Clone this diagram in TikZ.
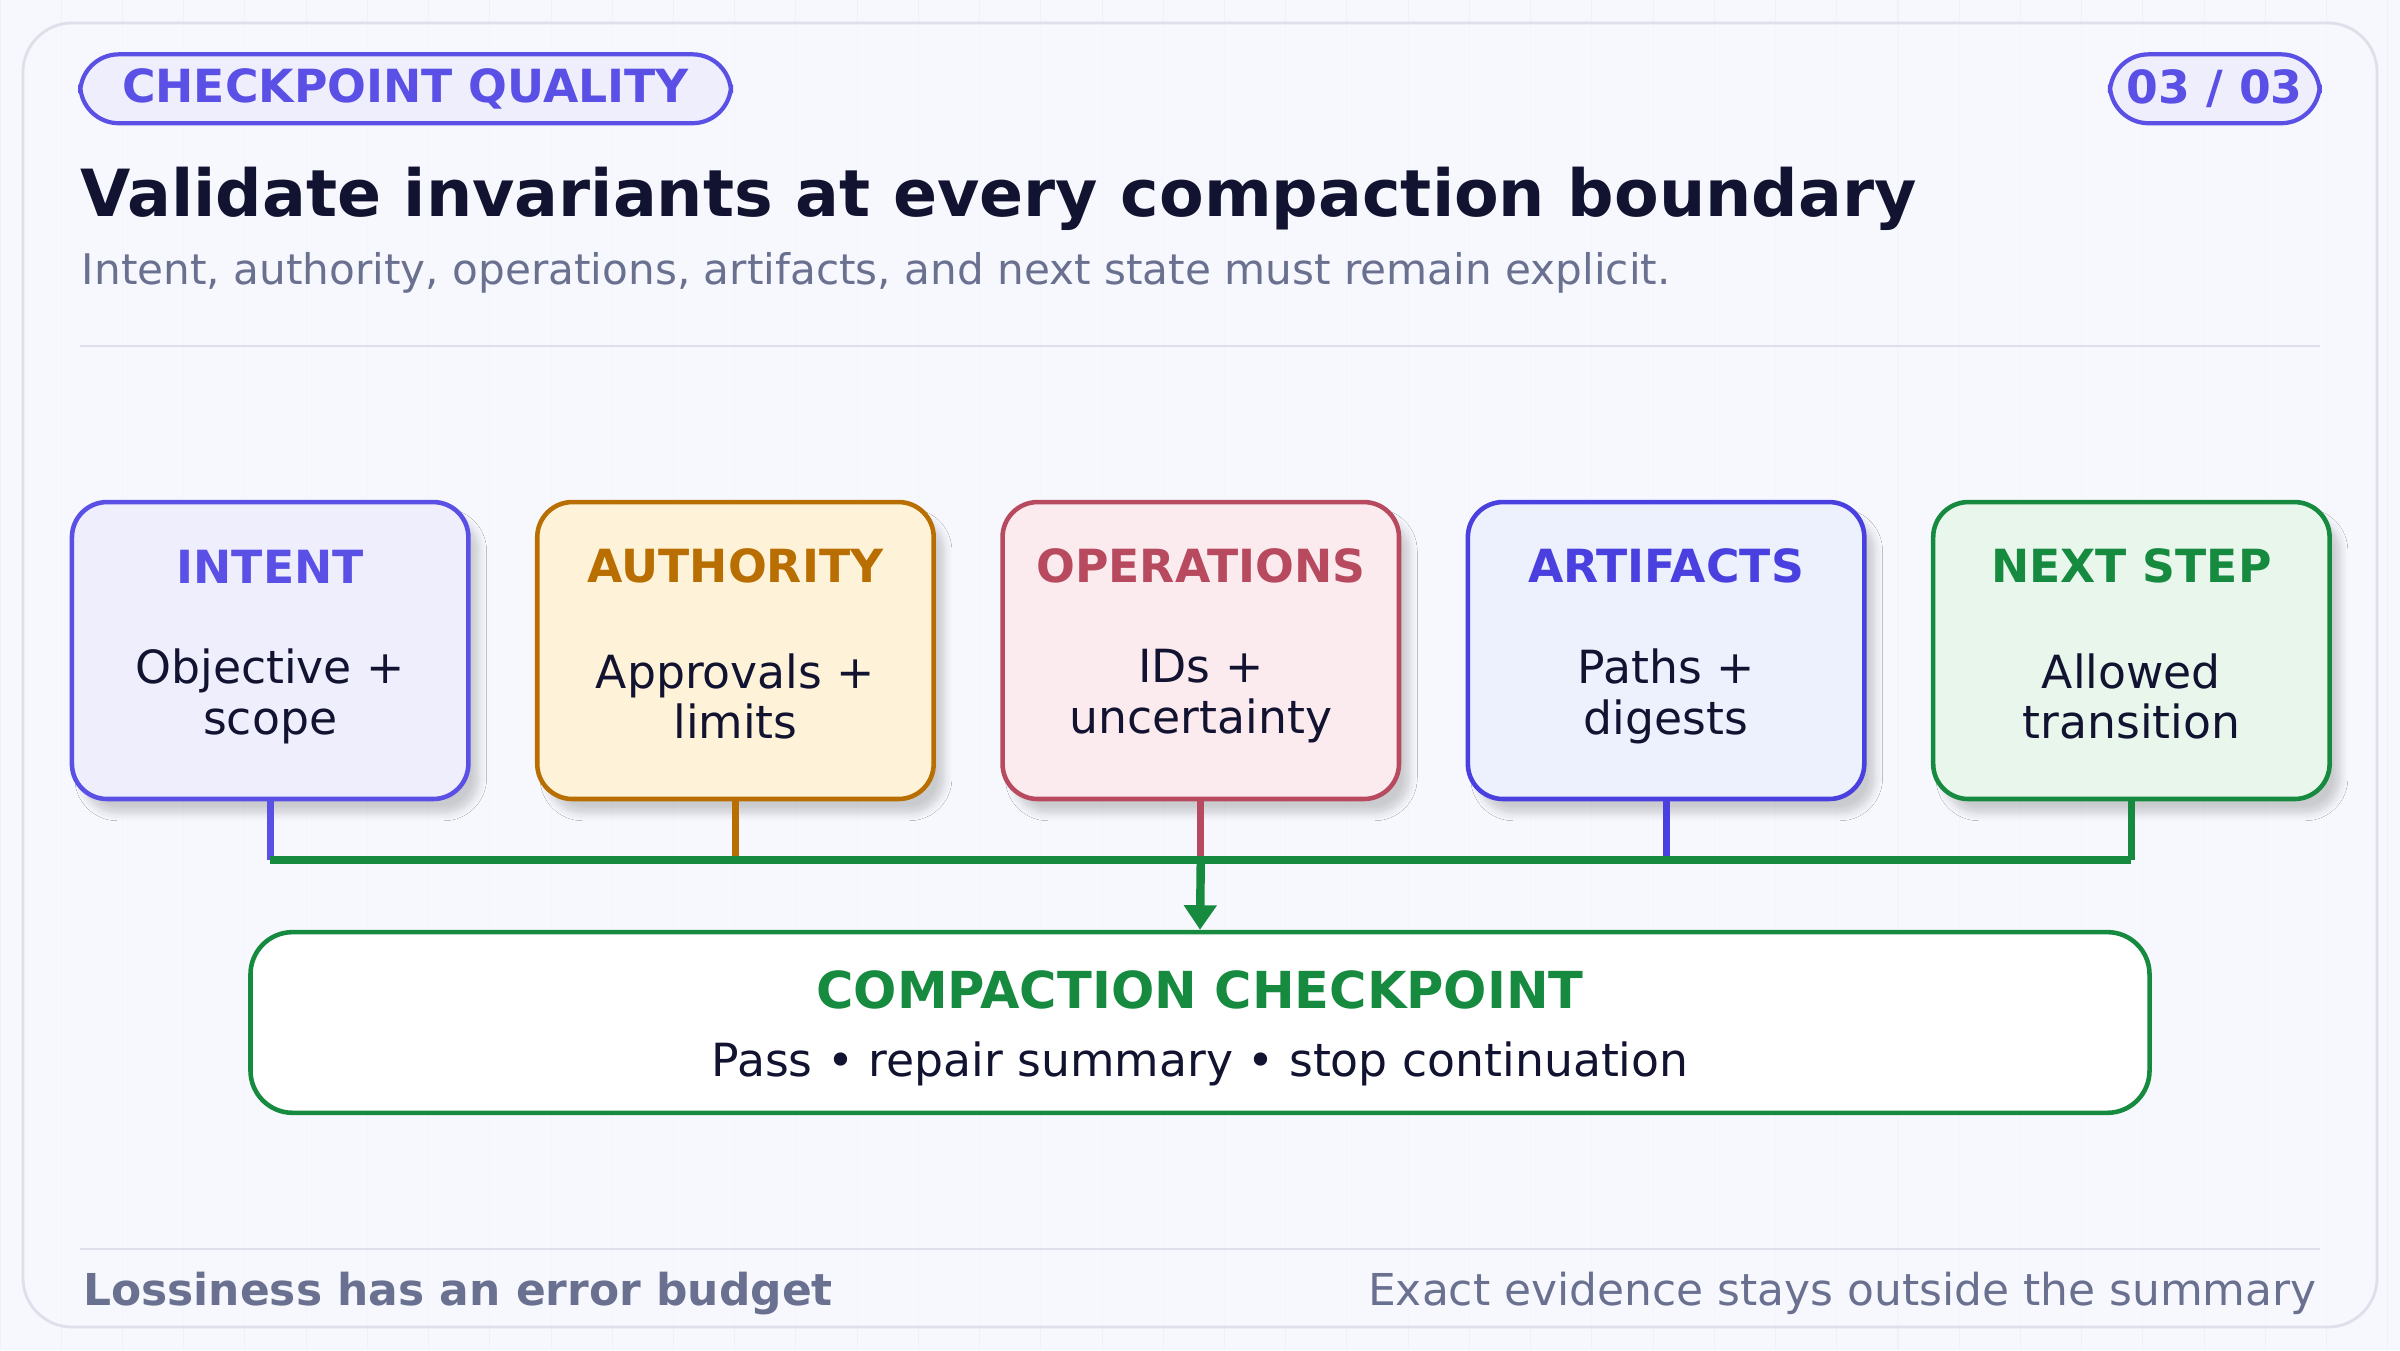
\documentclass[tikz,border=0pt]{standalone}
\usepackage{fontspec}
\setmainfont{DejaVu Sans}
\usetikzlibrary{arrows.meta,shadows.blur}
\definecolor{bg}{HTML}{F7F8FD}
\definecolor{frame}{HTML}{DDDFEA}
\definecolor{ink}{HTML}{111331}
\definecolor{muted}{HTML}{6A7190}
\definecolor{cI}{HTML}{5B50E6}\definecolor{fI}{HTML}{EFEEFD}
\definecolor{cA}{HTML}{B86E00}\definecolor{fA}{HTML}{FEF3D8}
\definecolor{cO}{HTML}{B84A5F}\definecolor{fO}{HTML}{FBEAEE}
\definecolor{cR}{HTML}{4A40E0}\definecolor{fR}{HTML}{EDF1FE}
\definecolor{cN}{HTML}{168A3F}\definecolor{fN}{HTML}{E8F6EC}
\begin{document}
\begin{tikzpicture}[x=0.015306cm,y=-0.015306cm,
 card/.style={draw=#1,line width=1.3pt,rounded corners=10pt,minimum width=259\pgflinewidth,anchor=north west,inner sep=0pt},
 ttl/.style={font=\bfseries\fontsize{13}{15}\selectfont,text=#1},
 body/.style={font=\fontsize{13}{14.5}\selectfont,text=ink,align=center},
 stem/.style={draw=#1,line width=2pt}]
\useasboundingbox (0,0) rectangle (1568,882);
\fill[bg] (0,0) rectangle (1568,882);
\draw[frame!45,line width=0.3pt] (0,0) grid[step=40] (1568,882);
\draw[frame,line width=0.8pt,rounded corners=14pt,fill=bg,fill opacity=0.6] (15,15) rectangle (1553,867);
\node[draw=cI,line width=1.2pt,fill=fI,rounded corners=11pt,minimum width=425*0.4357pt,minimum height=45*0.4357pt,text=cI,font=\bfseries\fontsize{13}{15}\selectfont] (badge) at (265,58) {CHECKPOINT QUALITY};
\node[draw=cI,line width=1.2pt,fill=fI,rounded corners=11pt,minimum width=137*0.4357pt,minimum height=45*0.4357pt,text=cI,font=\bfseries\fontsize{13}{15}\selectfont] (page) at (1447,58) {03 / 03};
\node[anchor=west,inner sep=0pt,text=ink,font=\bfseries\fontsize{18.5}{20}\selectfont] (title) at (52,130) {Validate invariants at every compaction boundary};
\node[anchor=west,inner sep=0pt,text=muted,font=\fontsize{12}{14}\selectfont] (sub) at (53,178) {Intent, authority, operations, artifacts, and next state must remain explicit.};
\draw[frame,line width=0.8pt] (52,226) -- (1516,226);
\draw[frame,line width=0.8pt] (52,816) -- (1516,816);
\node[anchor=west,inner sep=0pt,text=muted,font=\bfseries\fontsize{12.5}{14}\selectfont] (fl) at (54,845) {Lossiness has an error budget};
\node[anchor=east,inner sep=0pt,text=muted,font=\fontsize{12.5}{14}\selectfont] (fr) at (1514,845) {Exact evidence stays outside the summary};
% cards
\foreach \x/\c/\f/\t/\b/\n in {47/cI/fI/INTENT/{Objective +\\scope}/i, 351/cA/fA/AUTHORITY/{Approvals +\\limits}/a, 655/cO/fO/OPERATIONS/{IDs +\\uncertainty}/o, 959/cR/fR/ARTIFACTS/{Paths +\\digests}/r, 1263/cN/fN/NEXT STEP/{Allowed\\transition}/n}{
 \draw[\c,line width=1.3pt,fill=\f,rounded corners=10pt,blur shadow={shadow blur steps=6,shadow xshift=3pt,shadow yshift=-4pt,shadow opacity=18}] (\x,328) rectangle (\x+259,522);
 \node[ttl=\c] (t\n) at (\x+129.5,370) {\t};
 \node[body] (b\n) at (\x+129.5,455) {\b};
 \coordinate (s\n) at (\x+129.5,522);
 \coordinate (j\n) at (\x+129.5,562);
}
\draw[stem=cI] (si) -- (ji);
\draw[stem=cA] (sa) -- (ja);
\draw[stem=cO] (so) -- (jo);
\draw[stem=cR] (sr) -- (jr);
\draw[stem=cN] (sn) -- (jn);
\draw[cN,line width=2.4pt] (ji) -- (jn);
\node[draw=cN,line width=1.3pt,fill=white,rounded corners=12pt,minimum width=1240*0.4357pt,minimum height=118*0.4357pt] (cp) at (784,668) {};
\node[text=cN,font=\bfseries\fontsize{14.5}{16}\selectfont] (cpt) at (784,647) {COMPACTION CHECKPOINT};
\node[text=ink,font=\fontsize{13}{15}\selectfont] (cpb) at (784,695) {Pass • repair summary • stop continuation};
\draw[cN,line width=2.4pt,-{Triangle[length=7pt,width=9pt]}] (jo) -- (cp.north);
\end{tikzpicture}
\end{document}
